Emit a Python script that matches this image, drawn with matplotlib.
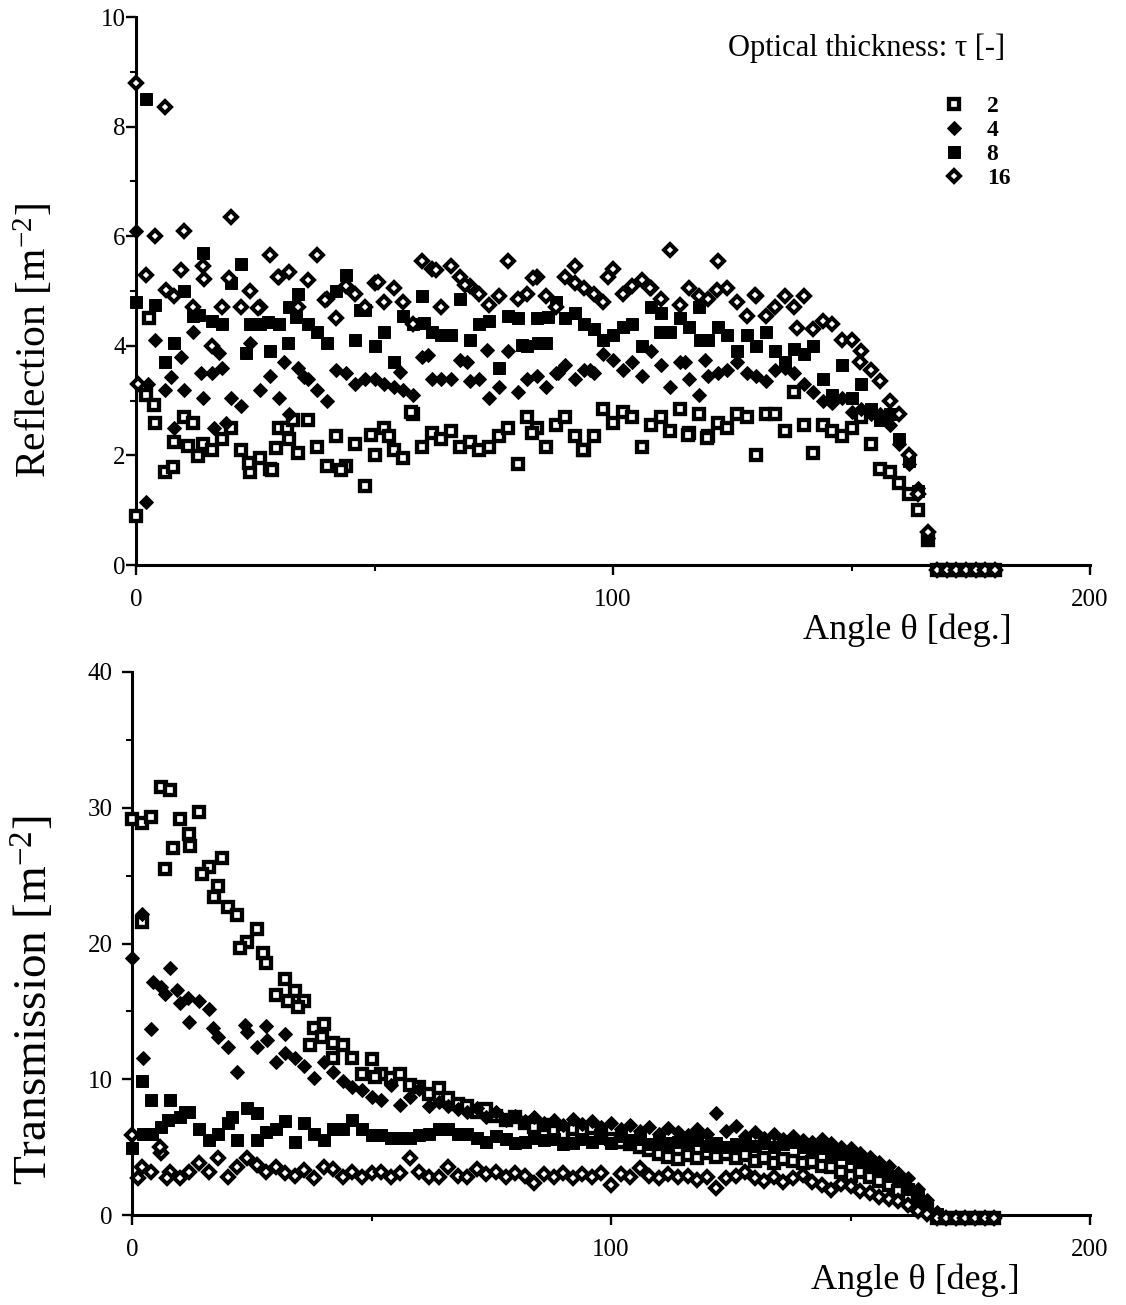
import numpy as np
import matplotlib
matplotlib.use("Agg")
import matplotlib.pyplot as plt
from matplotlib.lines import Line2D
from matplotlib.ticker import MultipleLocator

plt.rcParams['font.family'] = ['Liberation Serif', 'DejaVu Serif']
plt.rcParams['mathtext.fontset'] = 'custom'
plt.rcParams['mathtext.rm'] = 'Liberation Serif'
plt.rcParams['mathtext.it'] = 'Liberation Serif:italic'

# angle grid [deg], 2 degree steps
angle = np.arange(0, 181, 2)

# ---- Reflection [m^-2] ----
refl_2 = [0.9, 3.1, 2.6, 1.7, 2.25, 2.7, 2.6, 2.2, 2.1, 2.3,
          2.5, 2.1, 1.7, 1.95, 1.75, 2.5, 2.3, 2.05, 2.65, 2.15,
          1.8, 2.35, 1.8, 2.2, 1.45, 2.0, 2.5, 2.1, 1.95, 2.75,
          2.15, 2.4, 2.3, 2.45, 2.15, 2.25, 2.1, 2.15, 2.35, 2.5,
          1.85, 2.7, 2.5, 2.15, 2.55, 2.7, 2.35, 2.1, 2.35, 2.85,
          2.6, 2.8, 2.7, 2.15, 2.55, 2.7, 2.45, 2.85, 2.4, 2.75,
          2.35, 2.6, 2.5, 2.75, 2.7, 2.0, 2.75, 2.75, 2.45, 3.15,
          2.55, 2.05, 2.55, 2.45, 2.35, 2.5, 2.7, 2.2, 1.75, 1.7,
          1.5, 1.3, 1.0, 0.45, -0.1, -0.1, -0.1, -0.1, -0.1, -0.1,
          -0.1]
refl_4 = [6.1, 1.15, 4.1, 3.2, 2.5, 3.2, 4.25, 3.05, 3.5, 3.6,
          3.05, 2.9, 4.05, 3.2, 3.45, 3.05, 2.75, 3.6, 3.4, 3.2,
          3.0, 3.55, 3.5, 3.3, 3.4, 3.4, 3.3, 3.25, 3.2, 3.1,
          3.8, 3.4, 3.4, 3.4, 3.75, 3.35, 3.4, 3.05, 3.25, 3.9,
          3.15, 3.4, 3.45, 3.25, 3.5, 3.65, 3.4, 3.55, 3.5, 3.85,
          3.75, 3.55, 3.7, 3.45, 3.9, 3.65, 3.25, 3.7, 3.4, 3.1,
          3.45, 3.5, 3.55, 3.7, 3.5, 3.45, 3.35, 3.55, 3.6, 3.5,
          3.3, 3.15, 3.0, 2.95, 3.05, 2.8, 2.85, 2.75, 2.75, 2.55,
          2.2, 1.85, 1.4, 0.5, -0.1, -0.1, -0.1, -0.1, -0.1, -0.1,
          -0.1]
refl_8 = [4.8, 8.5, 4.75, 3.7, 4.05, 5.0, 4.55, 5.7, 4.45, 4.4,
          5.15, 5.5, 4.4, 4.4, 3.9, 4.4, 4.7, 4.95, 4.4, 4.25,
          4.05, 5.0, 5.3, 4.1, 4.65, 4.0, 4.25, 3.7, 4.55, 4.4,
          4.9, 4.25, 4.2, 4.2, 4.85, 4.1, 4.4, 4.45, 3.6, 4.55,
          4.5, 4.0, 4.5, 4.05, 4.8, 4.5, 4.6, 4.4, 4.3, 4.1,
          4.2, 4.35, 4.4, 4.0, 4.7, 4.6, 4.25, 4.5, 4.35, 4.7,
          4.1, 4.35, 4.2, 3.9, 4.2, 4.0, 4.25, 3.9, 3.7, 3.95,
          3.85, 4.0, 3.4, 3.1, 3.65, 3.05, 3.3, 2.85, 2.65, 2.75,
          2.3, 1.9, 1.35, 0.45, -0.1, -0.1, -0.1, -0.1, -0.1, -0.1,
          -0.1]
refl_16 = [8.8, 5.3, 6.0, 8.35, 4.9, 6.1, 4.7, 5.45, 4.0, 4.7,
           6.35, 4.7, 5.0, 4.7, 5.65, 5.25, 5.35, 4.7, 5.2, 5.65,
           4.85, 4.5, 5.1, 4.95, 4.7, 5.15, 4.8, 5.05, 4.8, 4.4,
           5.55, 5.4, 4.7, 5.45, 5.25, 5.1, 4.95, 4.75, 4.9, 5.55,
           4.85, 4.95, 5.25, 4.9, 4.7, 5.25, 5.45, 5.05, 4.95, 4.8,
           5.4, 4.95, 5.1, 5.2, 5.05, 4.85, 5.75, 4.75, 5.05, 4.9,
           4.85, 5.55, 5.05, 4.8, 4.55, 4.9, 4.55, 4.7, 4.9, 4.7,
           4.9, 4.3, 4.45, 4.4, 4.1, 4.1, 3.9, 3.55, 3.35, 3.0,
           2.75, 2.0, 1.3, 0.6, -0.1, -0.1, -0.1, -0.1, -0.1, -0.1,
           -0.1]

# extra scattered points read between the grid angles
refl_2_xa = [2.8, 3.8, 7.7, 11, 13, 23.7, 28.6, 29.3, 31.7, 33, 42.9, 49.2, 53, 57.7, 83, 93.7, 115.7, 119.7]
refl_2_x = [4.5, 2.92, 1.79, 2.17, 1.99, 1.86, 1.73, 2.13, 2.5, 2.65, 1.73, 2.37, 2.35, 2.79, 2.41, 2.1, 2.37, 2.32]
refl_4_xa = [2.5, 7.3, 9.4, 13.6, 16.3, 17.4, 18.8, 31, 35.2, 55.4, 61.3, 69.4, 73.6, 88.5, 95.2, 115, 119.2]
refl_4_x = [3.3, 3.43, 3.8, 3.5, 2.5, 3.86, 2.59, 3.7, 3.43, 3.52, 3.83, 3.7, 3.92, 3.5, 3.56, 3.7, 3.74]
refl_8_xa = [13.2, 23, 27.6, 31.8, 33.5, 47, 60.3, 81, 84.3, 86.4, 109.8, 118.2]
refl_8_x = [4.56, 3.87, 4.43, 4.05, 4.53, 4.65, 4.41, 4.01, 4.05, 4.53, 4.25, 4.1]
refl_16_xa = [0.5, 6.3, 9.4, 14.2, 19.5, 25.5, 29.7, 39.7, 50.8, 62.8, 69, 83.3, 92, 99, 107.7, 121.8, 129.7, 138.5, 151.7]
refl_16_x = [3.3, 5.02, 5.38, 5.22, 5.24, 4.69, 5.26, 4.84, 5.16, 5.38, 5.11, 5.24, 5.15, 5.26, 5.05, 5.02, 4.93, 4.32, 3.7]

# ---- Transmission [m^-2] ----
trans_2 = [29.2, 28.9, 29.3, 31.5, 31.3, 29.2, 28.1, 29.7, 25.6, 24.2,
           22.7, 22.1, 20.1, 21.1, 18.6, 16.2, 17.4, 16.5, 15.8, 13.8,
           14.1, 12.7, 12.5, 11.6, 10.4, 11.5, 10.4, 10.1, 10.4, 9.6,
           9.4, 8.9, 9.35, 8.6, 8.2, 8.0, 7.6, 7.8, 7.3, 7.0,
           7.2, 6.8, 6.5, 6.6, 6.2, 6.0, 6.3, 6.1, 6.4, 5.8,
           5.6, 5.4, 5.2, 5.0, 4.8, 4.5, 4.3, 4.1, 4.4, 4.2,
           4.6, 4.3, 4.5, 4.2, 4.4, 4.0, 4.2, 3.8, 4.1, 4.0,
           3.8, 3.9, 3.6, 3.5, 3.2, 2.9, 3.2, 2.8, 2.5, 2.2,
           1.8, 1.3, 0.9, 0.4, -0.2, -0.2, -0.2, -0.2, -0.2, -0.2,
           -0.2]
trans_4 = [18.9, 22.2, 13.7, 16.8, 18.2, 15.6, 14.2, 15.8, 15.2, 13.1,
           12.4, 10.5, 13.5, 12.4, 13.9, 11.3, 13.3, 11.6, 11.0, 10.1,
           11.3, 10.5, 9.9, 9.4, 9.2, 8.7, 8.5, 9.6, 8.1, 8.7,
           9.3, 8.0, 8.3, 8.0, 7.8, 7.6, 7.9, 7.2, 7.6, 7.0,
           7.3, 6.9, 7.2, 6.8, 7.0, 6.6, 7.1, 6.7, 6.9, 6.5,
           6.8, 6.3, 6.6, 6.2, 6.5, 6.0, 6.4, 6.1, 5.9, 6.3,
           6.0, 7.5, 6.2, 6.55, 5.8, 6.1, 5.7, 6.0, 5.6, 5.8,
           5.5, 5.4, 5.6, 5.3, 5.0, 4.9, 4.6, 4.3, 3.9, 3.6,
           3.1, 2.7, 1.9, 1.1, 0.2, -0.2, -0.2, -0.2, -0.2, -0.2,
           -0.2]
trans_8 = [4.9, 9.9, 8.5, 6.5, 8.5, 7.2, 7.6, 6.3, 5.5, 6.0,
           6.8, 5.5, 7.9, 7.5, 6.1, 6.3, 6.9, 5.4, 6.8, 6.0,
           5.5, 6.3, 6.3, 7.0, 6.3, 5.9, 5.9, 5.7, 5.7, 5.7,
           5.9, 6.0, 6.3, 6.3, 6.0, 6.0, 5.7, 5.4, 5.8, 5.6,
           5.3, 5.4, 5.7, 5.5, 5.6, 5.2, 5.3, 5.6, 5.4, 5.7,
           5.3, 5.8, 5.5, 5.6, 5.2, 5.5, 5.3, 5.4, 5.2, 5.5,
           5.1, 5.3, 5.0, 5.2, 5.4, 5.1, 5.3, 5.0, 5.2, 5.4,
           5.0, 4.8, 4.9, 4.6, 4.5, 4.2, 4.0, 3.7, 3.3, 2.9,
           2.5, 1.9, 1.3, 0.7, 0.1, -0.2, -0.2, -0.2, -0.2, -0.2,
           -0.2]
trans_16 = [5.9, 3.5, 3.2, 4.6, 3.2, 2.7, 3.2, 3.8, 3.2, 4.2,
            2.8, 3.5, 4.2, 3.7, 3.2, 3.5, 3.1, 2.9, 3.3, 2.7,
            3.5, 3.4, 2.8, 3.2, 2.8, 3.1, 3.2, 2.8, 3.1, 4.2,
            3.2, 2.8, 2.8, 3.5, 2.9, 2.8, 3.4, 3.0, 3.2, 2.8,
            3.1, 2.9, 2.35, 3.0, 2.8, 3.1, 2.7, 3.0, 2.8, 3.1,
            2.2, 3.0, 2.8, 3.45, 2.9, 2.7, 3.0, 2.8, 2.9, 2.6,
            2.8, 2.0, 2.7, 2.9, 3.2, 2.7, 2.5, 2.8, 2.4, 2.7,
            2.95, 2.4, 2.2, 1.85, 2.3, 2.1, 1.8, 1.6, 1.35, 1.2,
            1.0, 0.7, 0.3, 0.1, -0.2, -0.2, -0.2, -0.2, -0.2, -0.2,
            -0.2]

trans_2_xa = [2.1, 6.9, 8.6, 12.1, 14.6, 18.8, 17.2, 22.5, 27.4, 32.6, 34.7, 37.2, 39.6, 42, 50.7]
trans_2_x = [21.6, 25.5, 27.0, 27.2, 25.1, 26.3, 23.4, 19.7, 19.3, 15.8, 15.3, 12.5, 13.1, 11.6, 10.2]
trans_4_xa = [2.3, 4.4, 6.9, 9.3, 11.7, 17, 23.6, 28.2, 31.9]
trans_4_x = [11.6, 17.2, 16.3, 16.6, 16.0, 13.8, 14.0, 12.9, 11.9]
trans_8_xa = [2.3, 4.1, 7.5, 11, 20.9, 26.1]
trans_8_x = [6.0, 6.0, 7.0, 7.6, 7.2, 5.5]
trans_16_xa = [1.3, 5.8, 7.3]
trans_16_x = [2.7, 5.0, 2.7]

taus = ['2', '4', '8', '16']
styles = {
    '2': dict(marker='s', ms=6.6, mfc='white', mec='black', mew=3.1),
    '4': dict(marker='D', ms=7.6, mfc='black', mec='black', mew=0.7),
    '8': dict(marker='s', ms=9.2, mfc='black', mec='black', mew=0.7),
    '16': dict(marker='D', ms=6.0, mfc='white', mec='black', mew=2.9),
}

fig = plt.figure(figsize=(11.26, 13.05), dpi=100)
W, H = 1126, 1305


def px_axes(l, t, r, b):
    return fig.add_axes([l / W, 1 - b / H, (r - l) / W, (b - t) / H])


def style_axes(ax, ymax, ymaj, ymin, ypad):
    ax.set_xlim(0, 200)
    ax.set_ylim(0, ymax)
    for s in ['top', 'right']:
        ax.spines[s].set_visible(False)
    for s in ['left', 'bottom']:
        ax.spines[s].set_linewidth(2.2)
    ax.xaxis.set_major_locator(MultipleLocator(100))
    ax.xaxis.set_minor_locator(MultipleLocator(50))
    ax.yaxis.set_major_locator(MultipleLocator(ymaj))
    ax.yaxis.set_minor_locator(MultipleLocator(ymin))
    ax.tick_params(which='major', length=7, width=1.7, labelsize=18, direction='out')
    ax.tick_params(which='minor', length=4, width=1.5, direction='out')
    ax.tick_params(axis='x', which='major', pad=10)
    ax.tick_params(axis='y', which='major', pad=ypad)


ax1 = px_axes(136, 17, 1090, 565)
style_axes(ax1, 10, 2, 1, 0.5)
refl = {'2': (refl_2, refl_2_xa, refl_2_x), '4': (refl_4, refl_4_xa, refl_4_x),
        '8': (refl_8, refl_8_xa, refl_8_x), '16': (refl_16, refl_16_xa, refl_16_x)}
for i, t in enumerate(taus):
    vals, xa, xv = refl[t]
    ax1.plot(angle, vals, ls='none', clip_on=False, zorder=3 + i, **styles[t])
    ax1.plot(xa, xv, ls='none', clip_on=False, zorder=3 + i, **styles[t])

ax2 = px_axes(132, 672, 1090, 1215)
style_axes(ax2, 40, 10, 5, 7)
trans = {'2': (trans_2, trans_2_xa, trans_2_x), '4': (trans_4, trans_4_xa, trans_4_x),
         '8': (trans_8, trans_8_xa, trans_8_x), '16': (trans_16, trans_16_xa, trans_16_x)}
for i, t in enumerate(taus):
    vals, xa, xv = trans[t]
    ax2.plot(angle, vals, ls='none', clip_on=False, zorder=3 + i, **styles[t])
    ax2.plot(xa, xv, ls='none', clip_on=False, zorder=3 + i, **styles[t])

# axis labels
fig.text(34 / W, 1 - 340 / H, r'Reflection [m$^{-2}$]', rotation=90,
         ha='center', va='center', fontsize=30)
fig.text(34 / W, 1 - 1000 / H, r'Transmission [m$^{-2}$]', rotation=90,
         ha='center', va='center', fontsize=34)
fig.text(1012 / W, 1 - 630 / H, 'Angle θ [deg.]', ha='right', va='center', fontsize=26)
fig.text(1020 / W, 1 - 1280 / H, 'Angle θ [deg.]', ha='right', va='center', fontsize=26)

# legend
fig.text(1005 / W, 1 - 48 / H, 'Optical thickness: τ [-]', ha='right', va='center', fontsize=22)
handles = [Line2D([], [], ls='none', **styles[t]) for t in taus]
leg = fig.legend(handles, taus, loc='upper left', bbox_to_anchor=(930 / W, 1 - 84 / H),
                 frameon=False, handlelength=1.0, handletextpad=0.9, labelspacing=0.1,
                 borderpad=0, prop={'size': 17, 'weight': 'bold'})

fig.savefig('out.png', dpi=100)
